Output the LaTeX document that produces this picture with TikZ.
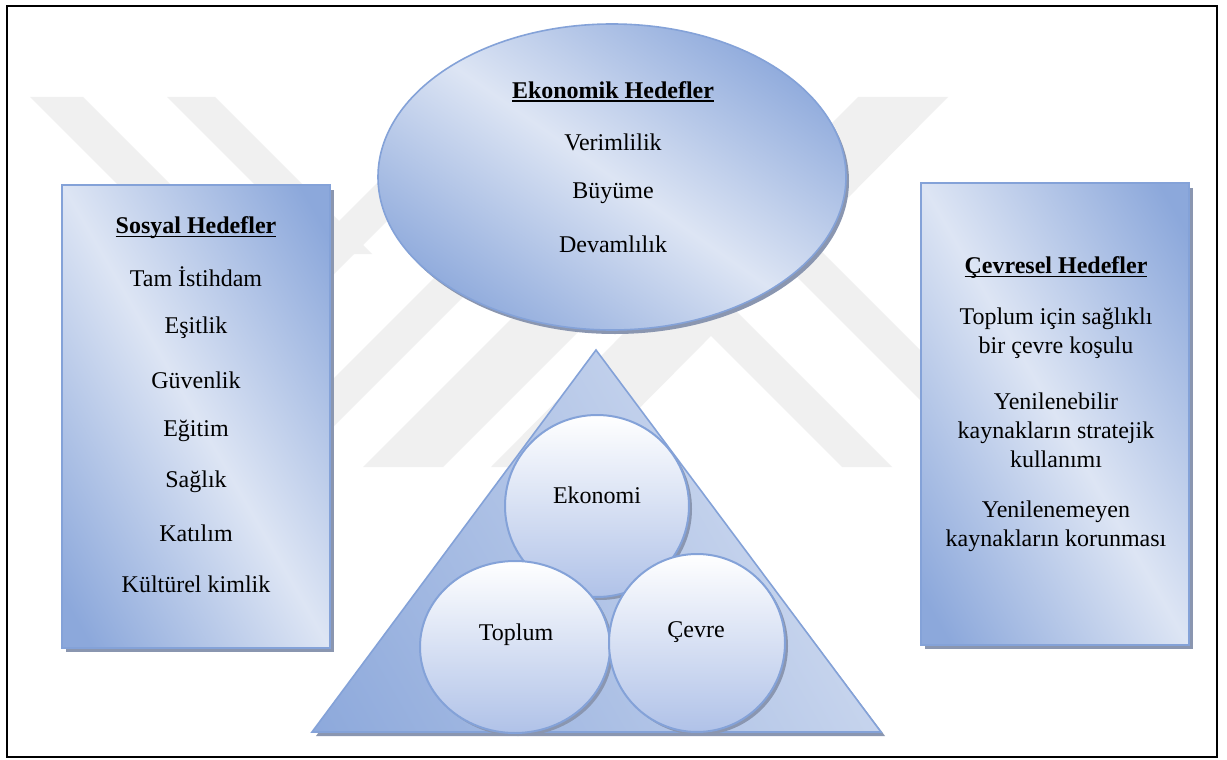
\documentclass[tikz,border=0pt]{standalone}
\usepackage{fontspec}
\setmainfont{Liberation Serif}
\definecolor{bdark}{RGB}{140,168,219}
\definecolor{blight}{RGB}{221,229,244}
\definecolor{bline}{RGB}{132,162,216}
\definecolor{shad}{RGB}{138,150,176}
\definecolor{cbot}{RGB}{176,194,232}
\definecolor{wmark}{RGB}{240,240,240}
\pgfdeclareverticalshading{boxgrad}{100bp}{color(0bp)=(bdark); color(31bp)=(bdark); color(50bp)=(blight); color(69bp)=(bdark); color(100bp)=(bdark)}
\newcommand\myul[1]{\setbox0\hbox{#1}\rlap{\rule[-3.5pt]{\wd0}{1.8pt}}\box0}
\tikzset{
  txt/.style={font=\fontsize{24}{29}\selectfont, align=center, inner sep=0pt},
  outline/.style={draw=bline, line width=1.6pt},
  shadowfill/.style={fill=shad},
  boxshade/.style={shading=boxgrad},
  ballshade/.style={top color=white, bottom color=cbot},
  wm/.style={fill=wmark},
}
\begin{document}
\begin{tikzpicture}[x=1pt,y=-1pt]
\useasboundingbox (0,0) rectangle (1227,760);
\fill[white] (0,0) rectangle (1227,760);

% faint watermark bands
\fill[wm] (30,97) -- (83,97) -- (240,254) -- (187,254) -- cycle;
\fill[wm] (167,97) -- (215,97) -- (372,254) -- (324,254) -- cycle;
\fill[wm] (463,97) -- (511,97) -- (318,290) -- (270,290) -- cycle;
\fill[wm] (858,97) -- (948,97) -- (581,467) -- (491,467) -- cycle;
\fill[wm] (562,150) -- (610,150) -- (293,467) -- (245,467) -- cycle;
\fill[wm] (617,97) -- (667,97) -- (1037,467) -- (987,467) -- cycle;
\fill[wm] (525,150) -- (575,150) -- (892,467) -- (842,467) -- cycle;
\fill[wm] (680,150) -- (760,150) -- (443,467) -- (363,467) -- cycle;

% frame
\draw[line width=2.4pt] (7,6) rectangle (1217,757);

% left box
\fill[shadowfill] (66,190) rectangle (334,652);
\begin{scope}
\clip (62,185) rectangle (330,648);
\shade[boxshade, shading angle=-60] (196,416.5) circle[radius=272pt];
\end{scope}
\draw[outline] (62,185) rectangle (330,648);

% right box
\fill[shadowfill] (925,188) rectangle (1193,649);
\begin{scope}
\clip (921,183) rectangle (1189,645);
\shade[boxshade, shading angle=-60] (1055,414) circle[radius=272pt];
\end{scope}
\draw[outline] (921,183) rectangle (1189,645);

% ellipse
\fill[shadowfill] (615,181) ellipse[x radius=234pt, y radius=153pt];
\begin{scope}
\clip (612,177) ellipse[x radius=234pt, y radius=153pt];
\shade[boxshade, shading angle=-35] (612,177) circle[radius=260pt];
\end{scope}
\draw[outline] (612,177) ellipse[x radius=234pt, y radius=153pt];

% triangle
\fill[shadowfill] (599,355) -- (316,736) -- (885,736) -- cycle;
\begin{scope}
\clip (596,350) -- (312,732) -- (881,732) -- cycle;
\shade[top color=blight, bottom color=bdark, shading angle=-60] (596,541) circle[radius=350pt];
\end{scope}
\draw[outline] (596,350) -- (312,732) -- (881,732) -- cycle;

% circles
\fill[shadowfill] (600,509) ellipse[x radius=92pt, y radius=91pt];
\shade[ballshade] (597,506) ellipse[x radius=92pt, y radius=91pt];
\draw[outline, line width=2pt] (597,506) ellipse[x radius=92pt, y radius=91pt];

\fill[shadowfill] (518,650) ellipse[x radius=95pt, y radius=86pt];
\shade[ballshade] (515,647) ellipse[x radius=95pt, y radius=86pt];
\draw[outline, line width=2pt] (515,647) ellipse[x radius=95pt, y radius=86pt];

\fill[shadowfill] (700,646) ellipse[x radius=88pt, y radius=89pt];
\shade[ballshade] (697,643) ellipse[x radius=88pt, y radius=89pt];
\draw[outline, line width=2pt] (697,643) ellipse[x radius=88pt, y radius=89pt];

% texts: left
\node[txt] (sh) at (196,228) {\textbf{\myul{Sosyal Hedefler}}};
\node[txt] (s1) at (196,277) {Tam İstihdam};
\node[txt] (s2) at (196,328) {Eşitlik};
\node[txt] (s3) at (196,380) {Güvenlik};
\node[txt] (s4) at (196,431) {Eğitim};
\node[txt] (s5) at (196,482) {Sağlık};
\node[txt] (s6) at (196,533) {Katılım};
\node[txt] (s7) at (196,584) {Kültürel kimlik};

% ellipse texts
\node[txt] (eh) at (613,92) {\textbf{\myul{Ekonomik Hedefler}}};
\node[txt] (e1) at (613,142) {Verimlilik};
\node[txt] (e2) at (613,193) {Büyüme};
\node[txt] (e3) at (613,244) {Devamlılık};

% right texts
\node[txt] (ch) at (1056,268) {\textbf{\myul{Çevresel Hedefler}}};
\node[txt] (c1) at (1056,333) {Toplum için sağlıklı\\bir çevre koşulu};
\node[txt] (c2) at (1056,430) {Yenilenebilir\\kaynakların stratejik\\kullanımı};
\node[txt] (c3) at (1056,526) {Yenilenemeyen\\kaynakların korunması};

% triangle texts
\node[txt] (t1) at (597,495) {Ekonomi};
\node[txt] (t2) at (516,635) {Toplum};
\node[txt] (t3) at (696,632) {Çevre};
\end{tikzpicture}
\end{document}
